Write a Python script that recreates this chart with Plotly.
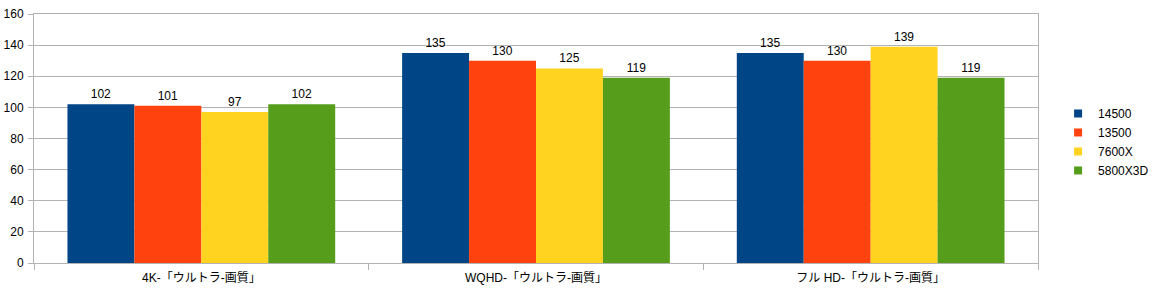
import plotly.graph_objects as go

categories = ["4K-「ウルトラ-画質」", "WQHD-「ウルトラ-画質」", "フル HD-「ウルトラ-画質」"]
series_names = ["14500", "13500", "7600X", "5800X3D"]
values_14500 = [102, 135, 135]
values_13500 = [101, 130, 130]
values_7600x = [97, 125, 139]
values_5800x3d = [102, 119, 119]
colors = ["#004586", "#ff420e", "#ffd320", "#579d1c"]
y_ticks = [0, 20, 40, 60, 80, 100, 120, 140, 160]

font_family = "Liberation Sans, Arial, Noto Sans CJK JP, sans-serif"

fig = go.Figure()
for name, vals, col in zip(series_names, [values_14500, values_13500, values_7600x, values_5800x3d], colors):
    fig.add_trace(go.Bar(
        x=categories, y=vals, name=name,
        marker=dict(color=col, line=dict(width=0)),
        text=[str(v) for v in vals], textposition="outside",
        textfont=dict(size=12, color="#000000", family=font_family),
        cliponaxis=False, showlegend=False,
    ))
# legend entries with small square swatches
for name, col in zip(series_names, colors):
    fig.add_trace(go.Scatter(
        x=[None], y=[None], mode="markers", name=name,
        marker=dict(symbol="square", size=8, color=col),
        showlegend=True,
    ))

fig.update_layout(
    width=1155, height=293,
    margin=dict(l=34, r=117, t=14, b=30, autoexpand=False),
    paper_bgcolor="white", plot_bgcolor="white",
    barmode="group", bargap=0.2, bargroupgap=0,
    font=dict(family=font_family, size=12, color="#000000"),
    showlegend=True,
    legend=dict(x=1.02, y=0.486, xanchor="left", yanchor="middle",
                font=dict(size=12, family=font_family), tracegroupgap=0,
                itemwidth=30, bgcolor="rgba(0,0,0,0)"),
)
fig.update_xaxes(
    showline=True, linecolor="#b3b3b3", linewidth=1, mirror=True,
    ticks="outside", tickson="boundaries", ticklen=6, tickcolor="#b3b3b3",
    showgrid=False, tickfont=dict(size=12, family=font_family),
    ticklabelstandoff=4,
)
fig.update_yaxes(
    range=[0, 160], tickvals=y_ticks, showline=True, linecolor="#b3b3b3",
    linewidth=1, mirror=True, ticks="outside", ticklen=5, tickcolor="#b3b3b3",
    showgrid=True, gridcolor="#b3b3b3", gridwidth=1, zeroline=False,
    tickfont=dict(size=12, family=font_family), ticklabelstandoff=2,
)

fig.write_html("out.html")
